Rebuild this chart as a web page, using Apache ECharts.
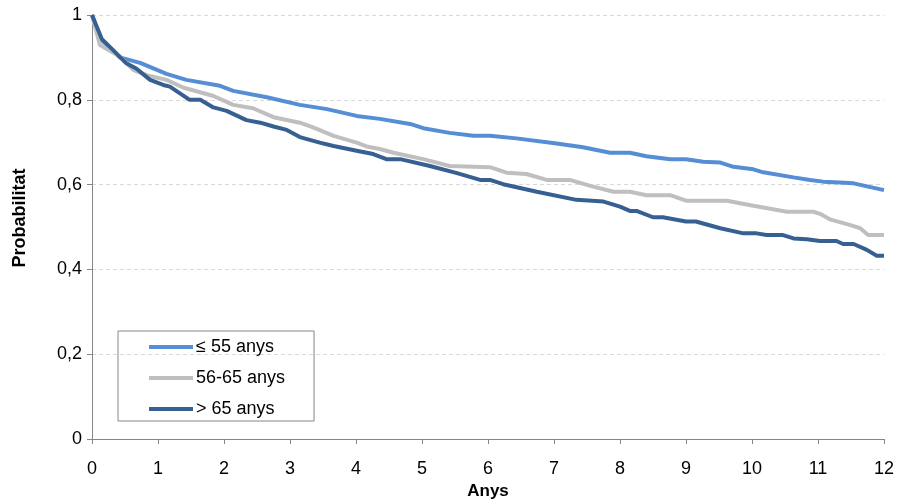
<!DOCTYPE html>
<html>
<head>
<meta charset="utf-8">
<script src="https://cdn.jsdelivr.net/npm/echarts@6/dist/echarts.min.js"></script>
<style>html,body{margin:0;padding:0;background:#fff;}#c{width:898px;height:503px;}</style>
</head>
<body>
<div id="c"></div>
<script>
const seriesNames = ['≤ 55 anys', '56-65 anys', '> 65 anys'];
const yearsBlue = [0, 0.12, 0.42, 0.73, 1.13, 1.43, 1.94, 2.14, 2.65, 3.15, 3.56, 4.01, 4.36, 4.82, 5.02, 5.42, 5.78, 6.03, 6.43, 7.04, 7.44, 7.85, 8.15, 8.4, 8.76, 9.0, 9.26, 9.52, 9.72, 10.02, 10.17, 10.63, 10.88, 11.08, 11.33, 11.54, 12.0];
const probBlue = [1, 0.945, 0.90, 0.887, 0.861, 0.847, 0.833, 0.821, 0.806, 0.788, 0.778, 0.762, 0.755, 0.743, 0.733, 0.722, 0.715, 0.715, 0.709, 0.697, 0.688, 0.675, 0.675, 0.667, 0.660, 0.660, 0.654, 0.652, 0.642, 0.636, 0.629, 0.617, 0.611, 0.607, 0.605, 0.603, 0.587];
const yearsGray = [0, 0.12, 0.42, 0.63, 0.83, 1.13, 1.38, 1.84, 2.14, 2.44, 2.75, 3.15, 3.35, 3.66, 4.01, 4.16, 4.36, 4.57, 5.02, 5.42, 6.03, 6.28, 6.58, 6.89, 7.24, 7.55, 7.9, 8.15, 8.4, 8.76, 9.0, 9.62, 10.02, 10.53, 10.93, 11.03, 11.18, 11.48, 11.64, 11.76, 12.0];
const probGray = [1, 0.929, 0.902, 0.870, 0.858, 0.847, 0.829, 0.809, 0.788, 0.780, 0.759, 0.746, 0.735, 0.715, 0.699, 0.690, 0.684, 0.675, 0.660, 0.644, 0.641, 0.628, 0.625, 0.611, 0.611, 0.597, 0.583, 0.583, 0.575, 0.575, 0.562, 0.562, 0.550, 0.536, 0.536, 0.531, 0.518, 0.505, 0.497, 0.481, 0.481];
const yearsDark = [0, 0.15, 0.32, 0.52, 0.67, 0.88, 1.08, 1.18, 1.48, 1.64, 1.84, 2.04, 2.34, 2.55, 2.75, 2.95, 3.15, 3.45, 3.66, 4.01, 4.26, 4.46, 4.67, 5.12, 5.53, 5.88, 6.03, 6.23, 6.74, 7.34, 7.75, 8.0, 8.15, 8.25, 8.5, 8.65, 9.0, 9.15, 9.52, 9.87, 10.07, 10.22, 10.47, 10.63, 10.83, 11.03, 11.28, 11.38, 11.54, 11.74, 11.89, 12.0];
const probDark = [1, 0.943, 0.917, 0.886, 0.874, 0.847, 0.835, 0.831, 0.800, 0.800, 0.782, 0.774, 0.752, 0.746, 0.737, 0.729, 0.712, 0.699, 0.691, 0.680, 0.672, 0.660, 0.660, 0.644, 0.627, 0.611, 0.611, 0.601, 0.583, 0.564, 0.560, 0.548, 0.538, 0.538, 0.523, 0.523, 0.513, 0.513, 0.497, 0.485, 0.485, 0.481, 0.481, 0.473, 0.471, 0.467, 0.467, 0.460, 0.460, 0.446, 0.432, 0.432];

const colors = ['#558ED5', '#BFBFBF', '#376092'];
const FONT = "'Liberation Sans', 'DejaVu Sans', sans-serif";
function pairs(xs, ys) { return xs.map((x, i) => [x, ys[i]]); }
const seriesData = [pairs(yearsBlue, probBlue), pairs(yearsGray, probGray), pairs(yearsDark, probDark)];

const chart = echarts.init(document.getElementById('c'), null, {renderer: 'canvas'});
chart.setOption({
  animation: false,
  backgroundColor: '#fff',
  grid: {left: 92, right: 14, top: 15, bottom: 64, containLabel: false, outerBoundsMode: 'none'},
  legend: {
    orient: 'vertical', left: 118, top: 331,
    data: seriesNames,
    icon: 'rect', itemWidth: 44, itemHeight: 4, itemGap: 13,
    padding: [7, 29, 3, 31],
    borderColor: '#868686', borderWidth: 1, borderRadius: 0,
    textStyle: {fontFamily: FONT, fontSize: 18, color: '#000', padding: [0, 0, 0, -2]}
  },
  xAxis: {
    type: 'value', min: 0, max: 12, interval: 1,
    name: 'Anys', nameLocation: 'middle', nameGap: 43,
    nameTextStyle: {fontFamily: FONT, fontSize: 17, fontWeight: 'bold', color: '#000'},
    axisLine: {lineStyle: {color: '#868686', width: 1}},
    axisTick: {show: true, length: 5, lineStyle: {color: '#868686'}},
    axisLabel: {fontFamily: FONT, fontSize: 18, color: '#000', margin: 21},
    splitLine: {show: false}
  },
  yAxis: {
    type: 'value', min: 0, max: 1, interval: 0.2,
    name: 'Probabilitat', nameLocation: 'middle', nameGap: 63, nameRotate: 90,
    nameTextStyle: {fontFamily: FONT, fontSize: 18, fontWeight: 'bold', color: '#000', padding: [0, 0, 0, 18]},
    axisLine: {show: true, lineStyle: {color: '#868686', width: 1}},
    axisTick: {show: true, length: 5, lineStyle: {color: '#868686'}},
    axisLabel: {fontFamily: FONT, fontSize: 18, color: '#000', margin: 10,
      formatter: v => (Math.round(v * 10) / 10).toString().replace('.', ',')},
    splitLine: {show: true, lineStyle: {color: '#D9D9D9', type: [4, 3], width: 1}}
  },
  series: seriesNames.map((n, i) => ({
    name: n, type: 'line', data: seriesData[i],
    symbol: 'none', color: colors[i],
    lineStyle: {color: colors[i], width: 4},
    z: 2 + i
  }))
});
</script>
</body>
</html>
